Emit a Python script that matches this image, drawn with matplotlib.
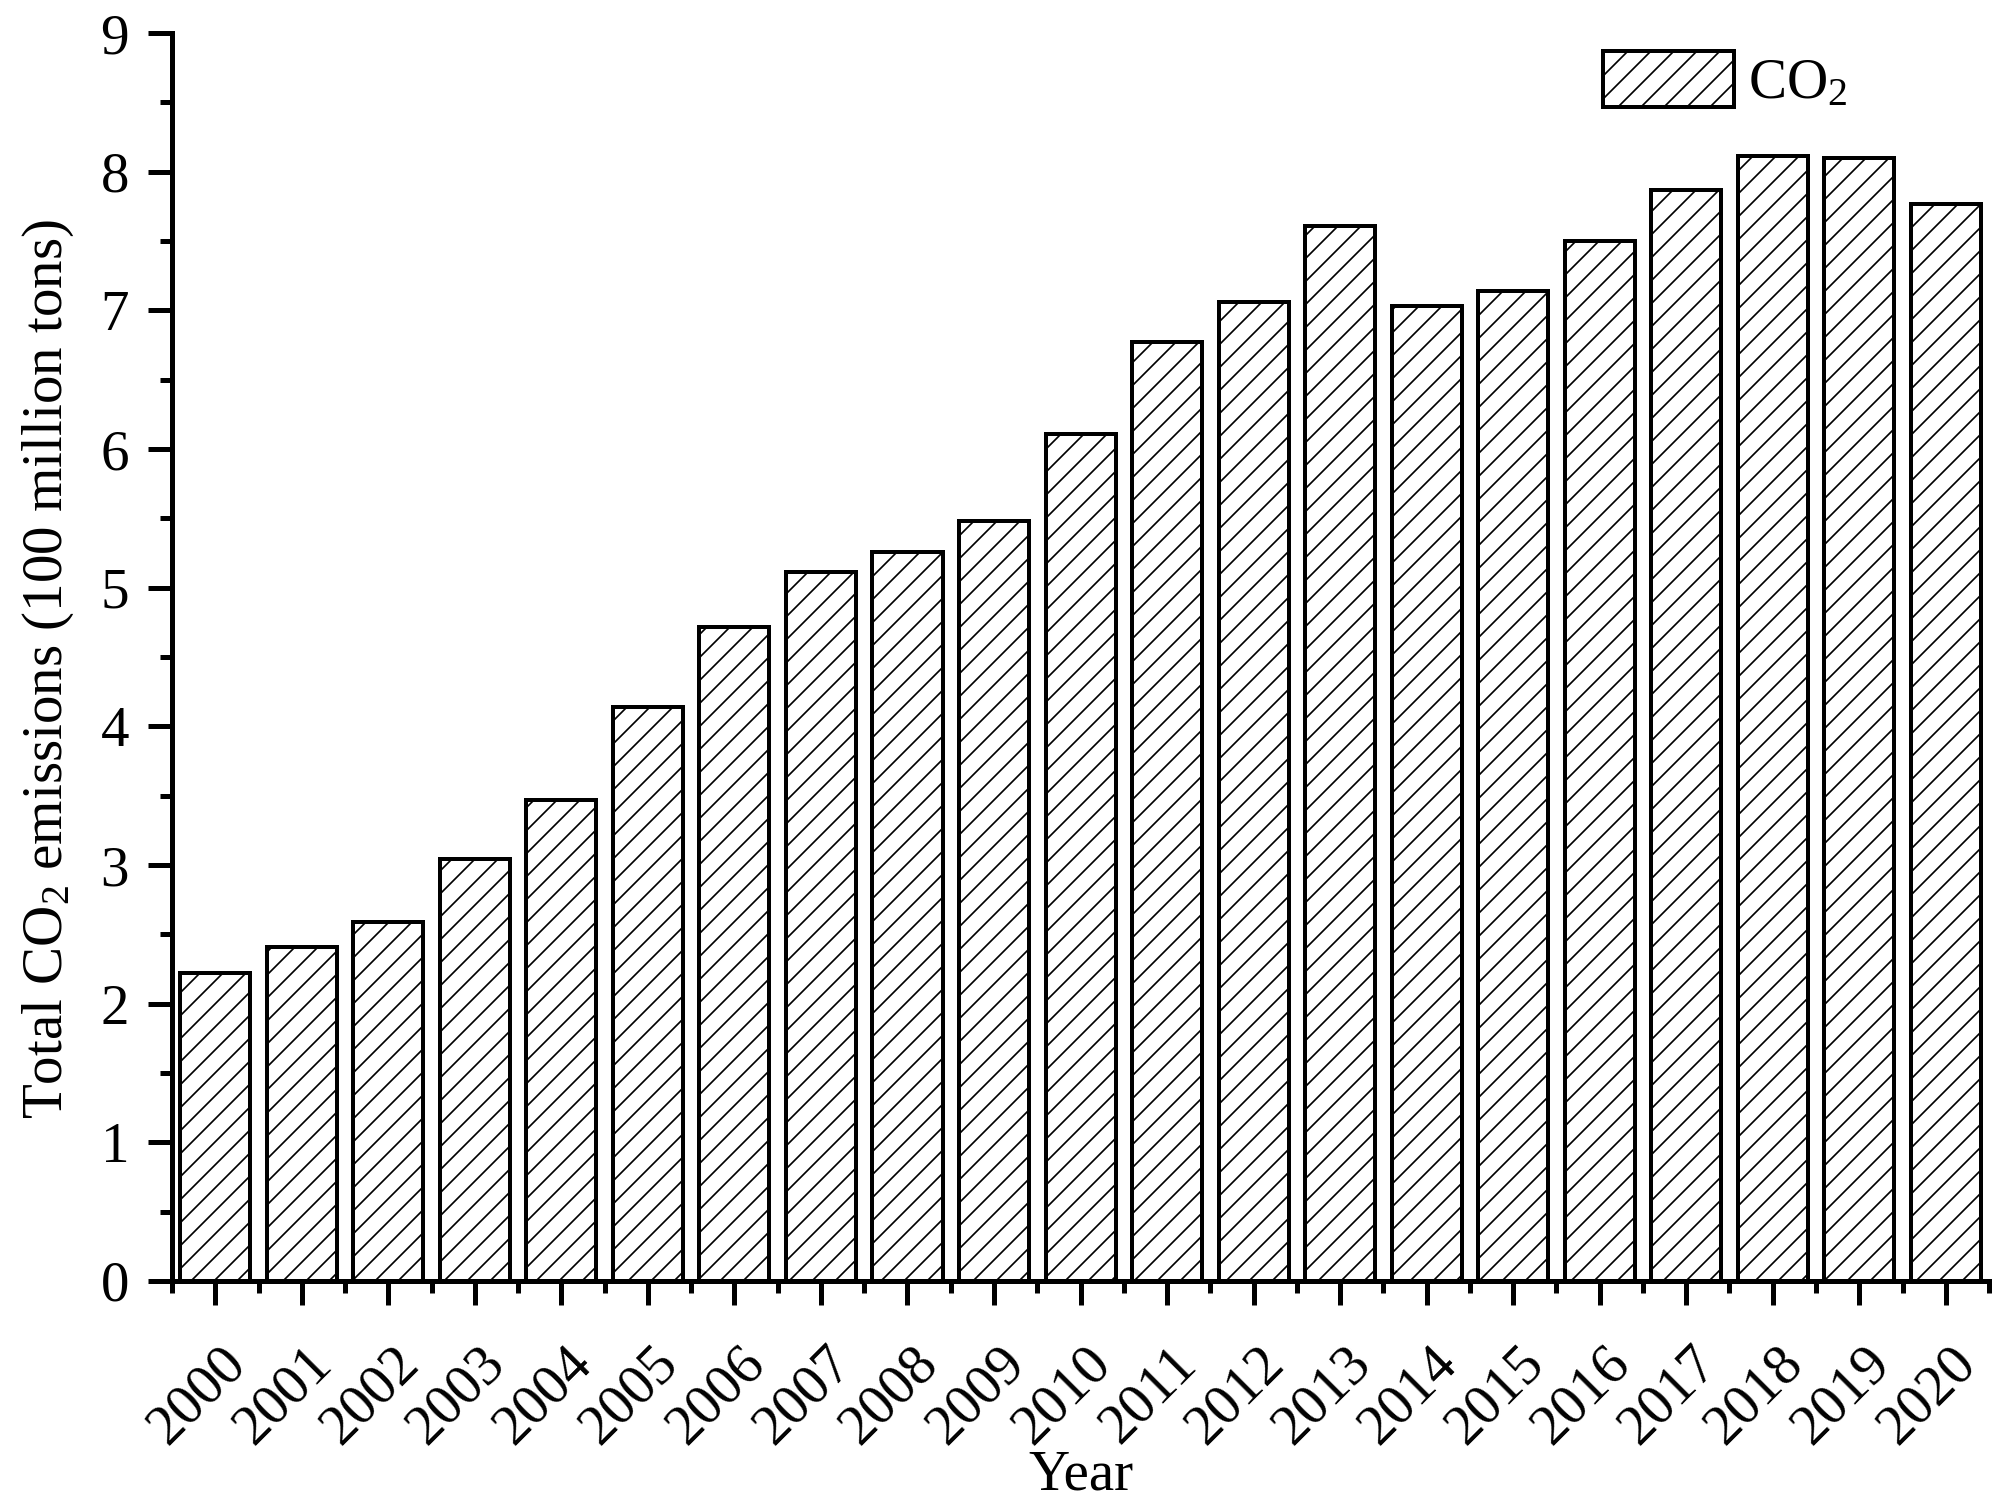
import matplotlib
matplotlib.use('Agg')
import matplotlib.pyplot as plt
import matplotlib.transforms as mtransforms
from matplotlib.ticker import MultipleLocator, FixedLocator

years = ['2000', '2001', '2002', '2003', '2004', '2005', '2006', '2007', '2008', '2009', '2010',
         '2011', '2012', '2013', '2014', '2015', '2016', '2017', '2018', '2019', '2020']
co2 = [2.22, 2.41, 2.59, 3.04, 3.47, 4.14, 4.72, 5.11, 5.26, 5.48, 6.11,
       6.77, 7.06, 7.61, 7.03, 7.14, 7.50, 7.87, 8.11, 8.10, 7.77]

dpi = 138


def px(v):
    # pixels -> points
    return v * 72.0 / dpi


plt.rcParams['font.family'] = 'Liberation Serif'
plt.rcParams['mathtext.fontset'] = 'custom'
plt.rcParams['mathtext.rm'] = 'Liberation Serif'
plt.rcParams['mathtext.it'] = 'Liberation Serif:italic'
plt.rcParams['hatch.linewidth'] = px(1.7)

fs = px(57)
fig = plt.figure(figsize=(2012 / dpi, 1504 / dpi), dpi=dpi)
ax = fig.add_axes([0.0855, 0.1483, 0.9031, 0.8297])

x = list(range(len(years)))
ax.bar(x, co2, width=0.81, color='white', edgecolor='black', linewidth=px(4),
       hatch='//', label='CO$_2$')

ax.set_xlim(-0.5, len(years) - 0.5)
ax.set_ylim(0, 9)
ax.set_xticks(x)
ax.set_xticklabels(years, rotation=45, ha='center')
ax.xaxis.set_minor_locator(FixedLocator([i - 0.5 for i in range(len(years) + 1)]))
ax.yaxis.set_major_locator(MultipleLocator(1))
ax.yaxis.set_minor_locator(MultipleLocator(0.5))

for s in ['top', 'right']:
    ax.spines[s].set_visible(False)
for s in ['left', 'bottom']:
    ax.spines[s].set_linewidth(px(5))

ax.tick_params(which='major', direction='out', length=px(24), width=px(5), labelsize=fs)
ax.tick_params(which='minor', direction='out', length=px(12), width=px(5))
ax.tick_params(axis='y', which='major', pad=px(19))
ax.tick_params(axis='x', which='major', pad=px(32))

# year labels sit a little left of their ticks
shift = mtransforms.ScaledTranslation(-18 / dpi, 0, fig.dpi_scale_trans)
for lbl in ax.get_xticklabels():
    lbl.set_transform(lbl.get_transform() + shift)

ax.set_ylabel('Total CO$_2$ emissions (100 million tons)', fontsize=fs)
ax.yaxis.set_label_coords(-0.053, 0.49)
ax.set_xlabel('Year', fontsize=fs, va='top')
ax.xaxis.set_label_coords(0.5, -0.135)

ax.legend(loc='upper left', bbox_to_anchor=(0.7876, 0.986), frameon=False,
          fontsize=fs, handlelength=2.3, handleheight=1.15, handletextpad=0.25,
          borderpad=0, borderaxespad=0)

fig.savefig('out.png', dpi=dpi)
